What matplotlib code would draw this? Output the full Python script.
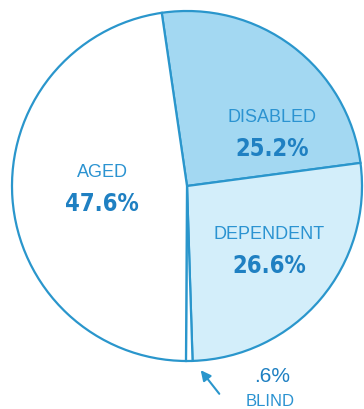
import matplotlib
matplotlib.use("Agg")
import matplotlib.pyplot as plt
from matplotlib import font_manager

# Share of recipients by category
categories = ["DISABLED", "DEPENDENT", "BLIND", "AGED"]
shares = [25.2, 26.6, 0.6, 47.6]
pct_labels = ["25.2%", "26.6%", ".6%", "47.6%"]

fills = ["#a3d8f2", "#d3eefa", "#ffffff", "#ffffff"]
edge = "#2a96cc"
text_c = "#2b93d1"
num_c = "#1f80c2"

W, H = 364, 410
fig = plt.figure(figsize=(W / 100, H / 100), dpi=100)
ax = fig.add_axes([0, 0, 1, 1])

cx, cy, r = 187, H - 187, 175
ax.pie(shares, colors=fills, startangle=98.3, counterclock=False,
       center=(cx, cy), radius=r, frame=True,
       wedgeprops=dict(edgecolor=edge, linewidth=1.6))
ax.set_xlim(0, W)
ax.set_ylim(0, H)
ax.set_aspect("equal")
ax.axis("off")

names = {f.name for f in font_manager.fontManager.ttflist}
plain = "Liberation Sans"

def label(x, y, name, pct, name_size=13, pct_size=17):
    ax.text(x, H - y, name, ha="center", va="center", color=text_c,
            fontsize=name_size, family=plain)
    ax.text(x, H - y - 31, pct, ha="center", va="center", color=num_c,
            fontsize=pct_size, family="DejaVu Sans", fontstretch="condensed",
            fontweight="bold")

label(272, 118, categories[0], pct_labels[0])
label(269, 235, categories[1], pct_labels[1])
label(102, 173, categories[3], pct_labels[3])

ax.text(272, H - 377, pct_labels[2], ha="center", va="center", color=num_c,
        fontsize=15, family=plain)
ax.text(270, H - 402, categories[2], ha="center", va="center", color=text_c,
        fontsize=12, family=plain)
ax.annotate("", xy=(199, H - 369), xytext=(221, H - 397),
            arrowprops=dict(arrowstyle="-|>,head_length=0.6,head_width=0.3",
                            color=edge, lw=1.5))

fig.savefig("out.png", dpi=100)
